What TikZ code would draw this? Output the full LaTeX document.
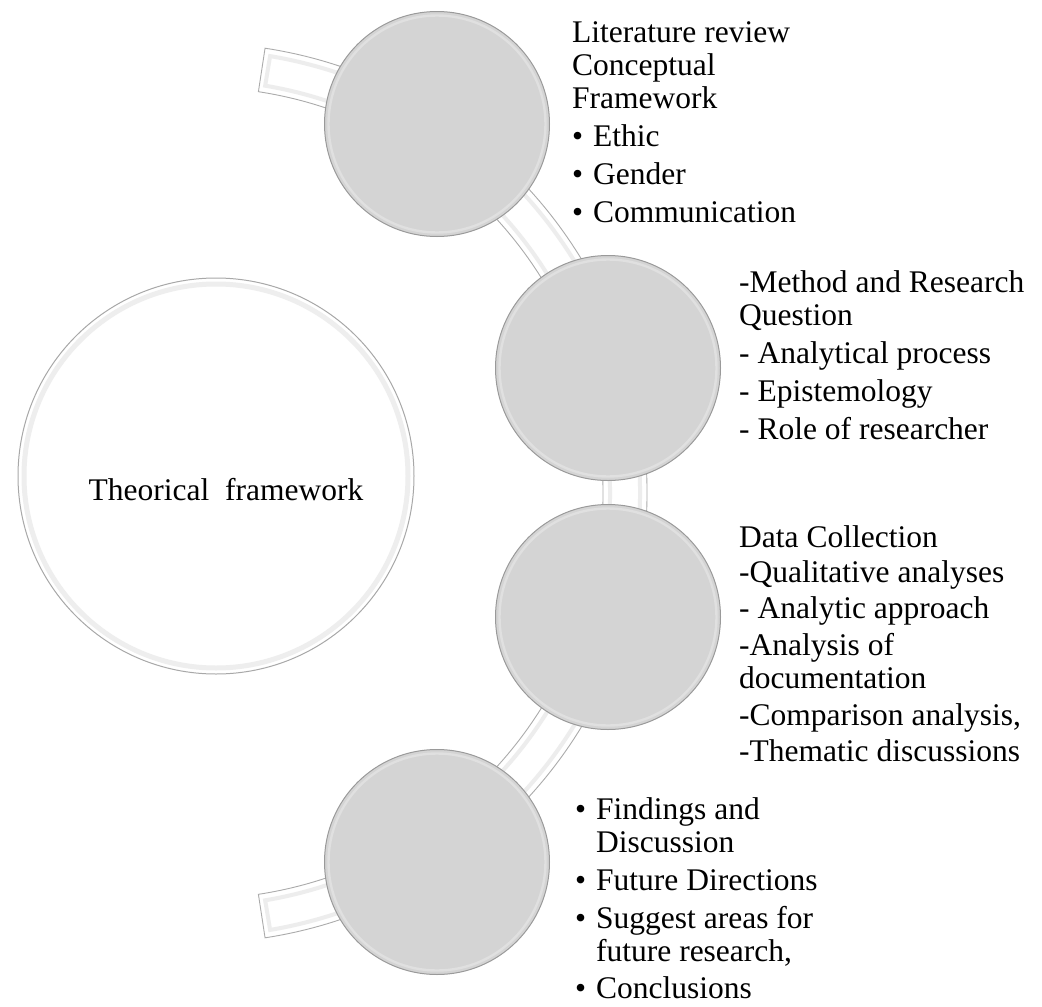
\documentclass[tikz,border=0pt]{standalone}
\usepackage{fontspec}
\setmainfont{Liberation Serif}
\definecolor{discfill}{HTML}{D4D4D4}
\definecolor{discedge}{HTML}{9A9A9A}
\definecolor{discrim}{HTML}{E0E0E0}
\definecolor{bandedge}{HTML}{ABABAB}
\definecolor{bandrim}{HTML}{EDEDED}
\definecolor{bigedge}{HTML}{A8A8A8}
\definecolor{bigrim}{HTML}{EEEEEE}
\tikzset{
  disc/.style={circle, fill=discfill, draw=discedge, line width=1pt,
               minimum size=225pt, inner sep=0pt},
  discrimline/.style={draw=discrim, line width=2.4pt},
  bigdisc/.style={circle, fill=white, draw=bigedge, line width=1pt,
                  minimum size=396pt, inner sep=0pt},
  bigrimline/.style={draw=bigrim, line width=5pt},
  band/.style={fill=white, draw=bandedge, line width=.9pt},
  bandrimline/.style={draw=bandrim, line width=4pt},
  steps/.style={anchor=north west, align=left, inner sep=0pt,
                font=\fontsize{31.5}{33}\selectfont}
}
\newcommand{\bulmark}{\makebox[21pt][l]{•}}
\newcommand{\hangpad}{\hspace*{21pt}}

\begin{document}
\begin{tikzpicture}[x=1pt, y=-1pt]
  \useasboundingbox (0,0) rectangle (1042,1007);
  \coordinate (hub) at (197,493);

  % bent band behind the discs
  \draw[band] ([shift={(-81.3:450)}]hub) arc[start angle=-81.3, end angle=81.3, radius=450]
    -- ([shift={(81.3:406)}]hub) arc[start angle=81.3, end angle=-81.3, radius=406] -- cycle;
  \draw[bandrimline] ([shift={(-80.5:443)}]hub) arc[start angle=-80.5, end angle=80.5, radius=443]
    -- ([shift={(80.5:413)}]hub) arc[start angle=80.5, end angle=-80.5, radius=413] -- cycle;

  \node[bigdisc] (theory) at (216,476) {};
  \draw[bigrimline] (theory) circle[radius=192];
  \node[steps, anchor=base] (theorytext) at (226,500) {Theorical\ \ framework};

  \node[disc] (lit) at (437,124) {};
  \node[disc] (method) at (608,368) {};
  \node[disc] (data) at (608,617) {};
  \node[disc] (find) at (437,862) {};
  \foreach \n in {lit,method,data,find}
    \draw[discrimline] (\n) circle[radius=108.5];

  \node[steps] (littext) at (572,21.5)
    {Literature review\\Conceptual\\Framework\\[5pt]\bulmark Ethic\\[5pt]\bulmark Gender\\[5pt]\bulmark Communication};
  \node[steps] (methodtext) at (739,270.5)
    {-Method and Research\\Question\\[5pt]- Analytical process\\[5pt]- Epistemology\\[5pt]- Role of researcher};
  \node[steps] (datatext) at (739,525.5)
    {Data Collection\\[2pt]-Qualitative analyses\\[3pt]- Analytic approach\\[4pt]-Analysis of\\documentation\\[4pt]-Comparison analysis,\\[3pt]-Thematic discussions};
  \node[steps] (findtext) at (575,797)
    {\bulmark Findings and\\\hangpad Discussion\\[5pt]\bulmark Future Directions\\[5pt]\bulmark Suggest areas for\\\hangpad future research,\\[4pt]\bulmark Conclusions};
\end{tikzpicture}
\end{document}
